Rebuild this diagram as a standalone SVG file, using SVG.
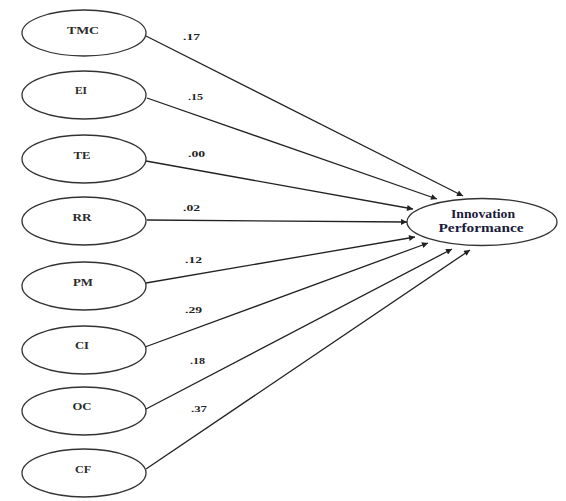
<svg xmlns="http://www.w3.org/2000/svg" width="566" height="501" viewBox="0 0 566 501">
<style>
.node ellipse{fill:#fff;stroke:#333;stroke-width:1.3}
.lbl{font-family:"Liberation Serif","Times New Roman",serif;font-size:11px;font-weight:bold;fill:#2a2a2a;text-anchor:middle}
.main{font-family:"Liberation Serif","Times New Roman",serif;font-size:11.5px;font-weight:bold;fill:#1a1a3a;text-anchor:middle}
.coef{font-family:"Liberation Serif","Times New Roman",serif;font-size:8px;font-weight:bold;fill:#222}
#connectors line{stroke:#222;stroke-width:1.3;marker-end:url(#arr)}
</style>
<defs>
<marker id="arr" viewBox="0 0 10 10" refX="10" refY="5" markerWidth="8" markerHeight="6" markerUnits="userSpaceOnUse" orient="auto">
<path d="M0,0 L10,5 L0,10 z" fill="#222"/>
</marker>
</defs>
<rect width="566" height="501" fill="#fff"/>
<g id="connectors">
<line x1="146" y1="36" x2="463" y2="196"/>
<line x1="147" y1="98" x2="437" y2="199"/>
<line x1="146" y1="161" x2="413" y2="209"/>
<line x1="147" y1="220" x2="407" y2="222"/>
<line x1="146" y1="283" x2="415" y2="237"/>
<line x1="145" y1="347" x2="428" y2="243"/>
<line x1="146" y1="409" x2="452" y2="249"/>
<line x1="146" y1="469" x2="470" y2="250"/>
<text class="coef" x="183" y="40" textLength="17" lengthAdjust="spacingAndGlyphs">.17</text>
<text class="coef" x="188" y="100" textLength="15" lengthAdjust="spacingAndGlyphs">.15</text>
<text class="coef" x="188" y="157" textLength="17" lengthAdjust="spacingAndGlyphs">.00</text>
<text class="coef" x="183" y="211" textLength="17" lengthAdjust="spacingAndGlyphs">.02</text>
<text class="coef" x="185" y="263" textLength="17" lengthAdjust="spacingAndGlyphs">.12</text>
<text class="coef" x="185" y="313" textLength="17" lengthAdjust="spacingAndGlyphs">.29</text>
<text class="coef" x="190" y="364" textLength="15" lengthAdjust="spacingAndGlyphs">.18</text>
<text class="coef" x="191" y="412" textLength="16" lengthAdjust="spacingAndGlyphs">.37</text>
</g>
<g id="TMC" class="node"><ellipse cx="84" cy="33" rx="62" ry="23"/><text class="lbl" x="83" y="34" textLength="32" lengthAdjust="spacingAndGlyphs">TMC</text></g>
<g id="EI" class="node"><ellipse cx="84" cy="95" rx="62" ry="24"/><text class="lbl" x="81" y="94" textLength="12" lengthAdjust="spacingAndGlyphs">EI</text></g>
<g id="TE" class="node"><ellipse cx="84" cy="159" rx="62" ry="24"/><text class="lbl" x="82" y="159" textLength="17" lengthAdjust="spacingAndGlyphs">TE</text></g>
<g id="RR" class="node"><ellipse cx="84" cy="221" rx="62" ry="24"/><text class="lbl" x="82" y="221" textLength="19" lengthAdjust="spacingAndGlyphs">RR</text></g>
<g id="PM" class="node"><ellipse cx="84" cy="286" rx="62" ry="24"/><text class="lbl" x="83" y="286" textLength="20" lengthAdjust="spacingAndGlyphs">PM</text></g>
<g id="CI" class="node"><ellipse cx="84" cy="350" rx="62" ry="24"/><text class="lbl" x="82" y="349" textLength="14" lengthAdjust="spacingAndGlyphs">CI</text></g>
<g id="OC" class="node"><ellipse cx="84" cy="411" rx="62" ry="24"/><text class="lbl" x="82" y="410" textLength="19" lengthAdjust="spacingAndGlyphs">OC</text></g>
<g id="CF" class="node"><ellipse cx="84" cy="473" rx="62" ry="24"/><text class="lbl" x="83" y="473" textLength="16" lengthAdjust="spacingAndGlyphs">CF</text></g>
<g id="IP" class="node"><ellipse cx="482" cy="222" rx="75" ry="23.5"/><text class="main" x="483" y="218" textLength="64" lengthAdjust="spacingAndGlyphs">Innovation</text><text class="main" x="481" y="232" textLength="85" lengthAdjust="spacingAndGlyphs">Performance</text></g>
</svg>
